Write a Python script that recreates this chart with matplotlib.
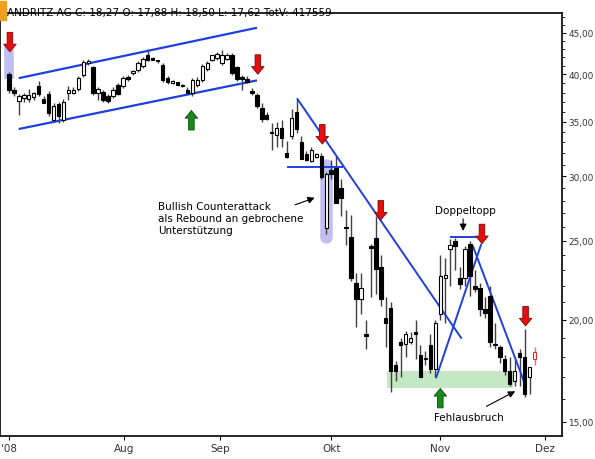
import numpy as np
import matplotlib
matplotlib.use("Agg")
import matplotlib.pyplot as plt
from matplotlib.ticker import FixedLocator, NullFormatter

opens = [40.0, 38.3, 37.1, 37.4, 37.3, 37.5, 38.7, 37.3, 37.8, 35.2, 36.8, 35.2, 37.9, 38.0, 38.4, 39.9,
         41.3, 40.8, 38.0, 38.1, 37.6, 37.6, 38.8, 38.7, 39.7, 40.1, 40.5, 40.9, 42.2, 41.8, 41.5, 41.1,
         39.6, 39.0, 39.1, 38.7, 38.3, 37.9, 38.8, 39.4, 40.6, 41.7, 41.9, 41.3, 41.8, 42.2, 40.8, 39.6,
         39.5, 38.2, 37.7, 36.4, 35.7, 34.0, 33.7, 34.4, 32.0, 33.6, 36.0, 33.0, 31.9, 31.3, 31.7, 31.8,
         25.9, 30.5, 30.7, 29.0, 26.0, 25.3, 22.2, 21.2, 19.2, 24.6, 25.2, 23.2, 20.1, 20.7, 17.6, 18.8,
         18.7, 18.8, 19.3, 18.1, 17.9, 18.6, 17.4, 20.3, 22.5, 24.4, 25.0, 22.5, 22.5, 24.8, 22.0, 21.9,
         20.6, 21.4, 18.6, 18.5, 17.9, 17.3, 16.8, 18.2, 18.0, 17.0, 17.88]
highs = [40.3, 38.6, 37.8, 37.9, 38.4, 38.1, 39.3, 37.6, 38.2, 36.9, 37.0, 37.3, 38.7, 38.6, 39.8, 41.6,
         41.8, 41.0, 38.6, 38.3, 37.8, 38.6, 39.0, 39.8, 39.9, 40.5, 41.5, 42.0, 43.0, 42.0, 41.7, 41.3,
         39.8, 39.4, 39.2, 38.9, 38.6, 39.6, 39.7, 41.2, 41.5, 42.3, 42.6, 42.8, 42.5, 42.5, 41.0, 39.9,
         39.8, 38.5, 38.0, 36.9, 36.0, 34.9, 35.0, 35.2, 33.1, 36.3, 37.3, 33.6, 32.2, 32.6, 32.0, 32.0,
         30.4, 31.4, 31.8, 29.8, 27.3, 26.9, 22.8, 22.8, 20.0, 24.8, 26.8, 24.0, 21.3, 21.0, 17.8, 19.0,
         19.4, 19.3, 20.0, 18.6, 18.3, 19.2, 20.0, 24.0, 23.8, 25.1, 25.2, 23.2, 24.6, 25.0, 23.0, 22.2,
         21.3, 22.0, 19.8, 18.6, 18.1, 18.0, 17.9, 18.4, 19.5, 17.5, 18.50]
lows = [37.9, 37.6, 35.7, 37.0, 37.0, 37.2, 37.6, 36.9, 35.6, 35.0, 34.9, 35.0, 37.2, 37.8, 38.2, 39.7,
        41.1, 37.7, 37.2, 37.0, 36.9, 37.4, 37.7, 38.5, 39.3, 39.9, 40.3, 40.7, 41.5, 41.6, 41.3, 39.2,
        38.9, 38.9, 38.7, 38.6, 37.8, 37.6, 38.6, 39.2, 40.4, 41.5, 41.7, 41.1, 41.6, 39.9, 39.3, 38.3,
        39.0, 37.7, 36.4, 35.0, 35.2, 32.3, 32.6, 32.6, 31.6, 33.3, 33.9, 31.5, 31.3, 31.2, 31.6, 29.8,
        25.5, 29.8, 27.8, 26.8, 24.7, 22.3, 19.6, 20.3, 18.4, 21.3, 21.5, 20.8, 18.5, 16.3, 16.8, 17.0,
        18.0, 18.7, 17.9, 17.0, 17.6, 17.2, 17.0, 20.0, 19.8, 22.0, 23.0, 21.8, 22.0, 21.4, 21.6, 20.2,
        20.1, 18.5, 18.4, 17.7, 17.1, 16.6, 16.6, 16.6, 16.1, 16.2, 17.62]
closes = [38.3, 37.9, 37.6, 37.7, 37.7, 38.0, 37.8, 36.9, 35.9, 36.6, 35.6, 37.0, 38.3, 38.3, 39.6, 41.4,
          41.5, 37.9, 38.4, 37.2, 37.1, 38.3, 37.8, 39.6, 39.5, 40.4, 41.3, 41.8, 41.7, 41.7, 41.5, 39.4,
          39.1, 39.3, 38.8, 38.7, 38.0, 39.4, 39.4, 41.0, 41.3, 42.2, 42.4, 42.3, 42.3, 40.1, 39.5, 39.5,
          39.1, 37.9, 36.6, 35.3, 35.3, 33.9, 34.4, 33.4, 31.7, 35.4, 34.3, 31.5, 31.4, 32.3, 31.9, 29.9,
          30.2, 30.2, 27.8, 28.2, 25.9, 22.5, 21.2, 21.9, 19.1, 24.5, 23.1, 21.2, 19.8, 17.3, 17.3, 18.6,
          19.2, 19.0, 19.2, 17.0, 17.9, 17.4, 19.8, 22.6, 22.7, 24.7, 24.6, 22.1, 24.4, 22.6, 21.8, 20.6,
          20.4, 18.8, 18.6, 18.0, 17.3, 16.7, 17.3, 18.0, 16.2, 17.5, 18.27]

month_labels = ["'08", "Aug", "Sep", "Okt", "Nov", "Dez"]
month_pos = [0, 23.2, 42.6, 65, 87, 108.2]
price_ticks = [15, 20, 25, 30, 35, 40, 45]

fig = plt.figure(figsize=(5.95, 4.6), dpi=100)
ax = fig.add_axes([0.0, 0.05, 0.945, 0.92])
ax.set_yscale("log")

idx = np.arange(len(opens))
for i in idx:
    o, h, l, c = opens[i], highs[i], lows[i], closes[i]
    last = i == idx[-1]
    edge = "#e03030" if last else "black"
    ax.vlines(i, l, h, color="#e07070" if last else "#404040", lw=1, zorder=2)
    face = "white" if c >= o else "black"
    lo, hi = min(o, c), max(o, c)
    if hi / lo < 1.004:
        hi = lo * 1.004
    ax.bar(i, hi - lo, bottom=lo, width=0.7, color=face, edgecolor=edge, lw=0.8, zorder=3)

# highlighted candles
ax.plot([0, 0], [39.5, 43.5], color="#8c8ce6", lw=7, alpha=0.55, zorder=1, solid_capstyle="butt")
ax.plot([64, 64], [25.3, 31.0], color="#8c8ce6", lw=9, alpha=0.55, zorder=1, solid_capstyle="round")

# trend lines
blue = "#1f3fe0"
ax.plot([2.2, 49.8], [39.6, 45.6], color=blue, lw=1.6)
ax.plot([2.2, 49.8], [34.3, 39.3], color=blue, lw=1.6)
ax.plot([58.2, 91.2], [37.3, 19.0], color=blue, lw=1.4)
ax.plot([56.2, 67.2], [30.8, 30.8], color=blue, lw=1.4)
ax.plot([86.2, 95.2], [17.0, 24.7], color=blue, lw=1.4)
ax.plot([89.2, 94.2], [25.3, 25.3], color=blue, lw=1.4)
ax.plot([93.6, 104.2], [24.6, 16.6], color=blue, lw=1.4)
ax.fill_between([76.2, 101.6], 16.5, 17.3, color="#b6e2b6", alpha=0.8, zorder=1, lw=0)

# signal arrows
def arrow(x, y, down, color, edge):
    dy = 18 if down else -18
    ax.annotate("", xy=(x, y), xytext=(0, dy), textcoords="offset points",
                arrowprops=dict(arrowstyle="simple,head_width=0.9,head_length=0.55,tail_width=0.4",
                                fc=color, ec=edge, lw=0.6), zorder=5)

red, dred = "#e01010", "#8a0000"
green, dgreen = "#1a8a1a", "#0a4a0a"
arrow(0.2, 42.3, True, red, dred)
arrow(50.2, 39.7, True, red, dred)
arrow(63.2, 32.6, True, red, dred)
arrow(75.0, 26.3, True, red, dred)
arrow(95.4, 24.6, True, red, dred)
arrow(104.2, 19.5, True, red, dred)
arrow(36.8, 36.4, False, green, dgreen)
arrow(87.0, 16.6, False, green, dgreen)

ax.text(30, 28.0, "Bullish Counterattack\nals Rebound an gebrochene\nUnterstützung",
        fontsize=7.5, va="top", ha="left", linespacing=1.3)
ax.annotate("", xy=(62.2, 28.3), xytext=(57.2, 27.6), arrowprops=dict(arrowstyle="-|>", lw=0.8, color="black"))
ax.text(86, 26.9, "Doppeltopp", fontsize=7.5, va="bottom", ha="left")
ax.annotate("", xy=(91.6, 25.5), xytext=(91.6, 26.8), arrowprops=dict(arrowstyle="-|>", lw=0.8, color="black"))
ax.text(85.7, 15.0, "Fehlausbruch", fontsize=7.5, va="bottom", ha="left")
ax.annotate("", xy=(102.6, 16.4), xytext=(95.8, 15.6), arrowprops=dict(arrowstyle="-|>", lw=0.8, color="black"))

ax.set_xlim(-1.8, 111.6)
ax.set_ylim(14.4, 47.6)
ax.yaxis.tick_right()
ax.yaxis.set_major_locator(FixedLocator(price_ticks))
ax.yaxis.set_minor_locator(FixedLocator(np.arange(15, 48, 1)))
ax.yaxis.set_minor_formatter(NullFormatter())
ax.set_yticklabels([f"{t},00" for t in price_ticks], fontsize=6.4, color="#333333")
ax.tick_params(axis="y", which="major", length=3, direction="out", pad=1.5)
ax.tick_params(axis="y", which="minor", length=2, direction="out")
ax.set_xticks(month_pos)
ax.set_xticklabels(month_labels, fontsize=7.5, color="#333333")
ax.tick_params(axis="x", length=3, direction="out", pad=2)
for s in ax.spines.values():
    s.set_linewidth(1.2)

fig.text(0.012, 0.972, "ANDRITZ AG C: 18,27 O: 17,88 H: 18,50 L: 17,62 TotV: 417559",
         fontsize=7.5, va="center", ha="left")
fig.patches.append(plt.Rectangle((0, 0.955), 0.01, 0.04, transform=fig.transFigure,
                                 color="#f0a020"))

fig.savefig("out.png", dpi=100)
